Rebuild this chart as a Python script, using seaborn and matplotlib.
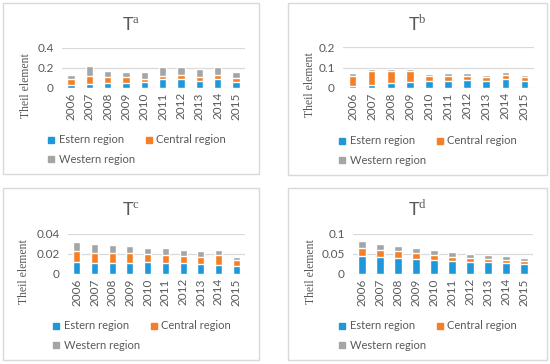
"""
Theil element decomposition by region, 2006-2015 (four panels)
"""

import numpy as np
import pandas as pd
import matplotlib
matplotlib.use("Agg")
import matplotlib.pyplot as plt
from matplotlib.patches import Rectangle
from matplotlib.lines import Line2D
import seaborn as sns

years = ['2006', '2007', '2008', '2009', '2010', '2011', '2012', '2013', '2014', '2015']

# panel a
east_a = [0.033, 0.040, 0.047, 0.050, 0.057, 0.087, 0.090, 0.073, 0.090, 0.063]
central_a = [0.057, 0.077, 0.063, 0.060, 0.033, 0.033, 0.037, 0.037, 0.037, 0.037]
west_a = [0.043, 0.103, 0.057, 0.053, 0.070, 0.087, 0.087, 0.083, 0.087, 0.057]

# panel b
east_b = [0.011, 0.016, 0.023, 0.028, 0.033, 0.033, 0.037, 0.036, 0.044, 0.036]
central_b = [0.049, 0.065, 0.062, 0.053, 0.024, 0.027, 0.023, 0.016, 0.019, 0.016]
west_b = [0.013, 0.013, 0.008, 0.012, 0.013, 0.013, 0.013, 0.013, 0.013, 0.010]

# panel c
east_c = [0.0117, 0.0110, 0.0107, 0.0110, 0.0117, 0.0107, 0.0107, 0.0103, 0.0090, 0.0083]
central_c = [0.0113, 0.0103, 0.0106, 0.0097, 0.0083, 0.0083, 0.0073, 0.0067, 0.0100, 0.0054]
west_c = [0.0087, 0.0084, 0.0080, 0.0070, 0.0060, 0.0067, 0.0063, 0.0057, 0.0047, 0.0036]

# panel d
east_d = [0.0447, 0.0423, 0.0400, 0.0380, 0.0350, 0.0330, 0.0310, 0.0290, 0.0276, 0.0240]
central_d = [0.0213, 0.0177, 0.0170, 0.0140, 0.0130, 0.0100, 0.0090, 0.0090, 0.0084, 0.0080]
west_d = [0.0170, 0.0156, 0.0130, 0.0130, 0.0130, 0.0130, 0.0100, 0.0100, 0.0095, 0.0080]

panels = [
    ('a', east_a, central_a, west_a, [0, 0.2, 0.4], ['0', '0.2', '0.4']),
    ('b', east_b, central_b, west_b, [0, 0.1, 0.2], ['0', '0.1', '0.2']),
    ('c', east_c, central_c, west_c, [0, 0.02, 0.04], ['0', '0.02', '0.04']),
    ('d', east_d, central_d, west_d, [0, 0.05, 0.1], ['0', '0.05', '0.1']),
]

BLUE = '#1F97DB'
ORANGE = '#F67F25'
GRAY = '#A5A5A5'
TXT = '#595959'

sns.set_theme(style='white')
plt.rcParams['font.family'] = ['Lato', 'DejaVu Sans']
plt.rcParams['mathtext.fontset'] = 'custom'
plt.rcParams['mathtext.rm'] = 'Liberation Serif'

W, H = 550, 364
fig = plt.figure(figsize=(5.5, 3.64), dpi=100)

# layout in pixels: box (x0, y0, x1, y1), plot area (x0, x1, ytop, ybottom), legend x, ylabel x
boxes = [(3, 3, 259, 174), (288, 3, 547, 175), (3, 188, 259, 360), (288, 188, 547, 360)]
areas = [(62, 245, 48, 88), (343, 534, 47, 88), (68, 245, 234, 274), (353, 533, 234, 274)]
legx = [43, 334, 48, 334]
labx = [26, 310, 24, 311]

for (tag, east, central, west, ticks, tlabels), box, area, lx, ylx in zip(panels, boxes, areas, legx, labx):
    bx0, by0, bx1, by1 = box
    fig.patches.append(Rectangle((bx0 / W, 1 - by1 / H), (bx1 - bx0) / W, (by1 - by0) / H,
                                 transform=fig.transFigure, fill=False,
                                 edgecolor='#D9D9D9', linewidth=1))
    x0, x1, yt, yb = area
    ax = fig.add_axes([x0 / W, 1 - yb / H, (x1 - x0) / W, (yb - yt) / H])

    df = pd.DataFrame({'year': years, 'east': east, 'central': central, 'west': west})
    df['c1'] = df['east']
    df['c2'] = df['east'] + df['central']
    df['c3'] = df['c2'] + df['west']

    sns.barplot(data=df, x='year', y='c3', color=GRAY, width=0.4, saturation=1, ax=ax)
    sns.barplot(data=df, x='year', y='c2', color=ORANGE, width=0.4, saturation=1, ax=ax)
    sns.barplot(data=df, x='year', y='c1', color=BLUE, width=0.4, saturation=1, ax=ax)

    ax.set_ylim(0, ticks[-1])
    ax.set_yticks(ticks)
    ax.set_yticklabels(tlabels)
    ax.set_xlim(-0.5, len(years) - 0.5)
    for t in ticks:
        ax.axhline(t, color='#D9D9D9', linewidth=0.9, zorder=0)
    for s in ax.spines.values():
        s.set_visible(False)
    ax.tick_params(axis='x', labelrotation=90, labelsize=8.5, colors=TXT, length=0, pad=3)
    ax.tick_params(axis='y', labelsize=8.5, colors=TXT, length=0, pad=6)
    ax.set_xlabel('')
    ax.set_ylabel('')

    cx = (bx0 + bx1) / 2
    fig.text(cx / W, 1 - (by0 + 28) / H, 'T$^{\\rm ' + tag + '}$', ha='center', va='baseline',
             fontsize=13, color=TXT)
    fig.text(ylx / W, 1 - (yt + 38) / H, 'Theil element', rotation=90, ha='center',
             va='center', fontsize=8.5, color=TXT, family='Liberation Serif')

    handles = [Line2D([], [], marker='s', linestyle='', color=BLUE, markersize=5),
               Line2D([], [], marker='s', linestyle='', color=GRAY, markersize=5),
               Line2D([], [], marker='s', linestyle='', color=ORANGE, markersize=5)]
    labels = ['Estern region', 'Western region', 'Central region']
    ax.legend(handles, labels, ncol=2, loc='upper left', frameon=False,
              bbox_to_anchor=(lx / W, 1 - (by1 - 44) / H), bbox_transform=fig.transFigure,
              fontsize=8, labelcolor=TXT, handlelength=0.7, handletextpad=0.3,
              columnspacing=0.9, labelspacing=0.8, borderaxespad=0)

fig.savefig('out.png', dpi=100)
